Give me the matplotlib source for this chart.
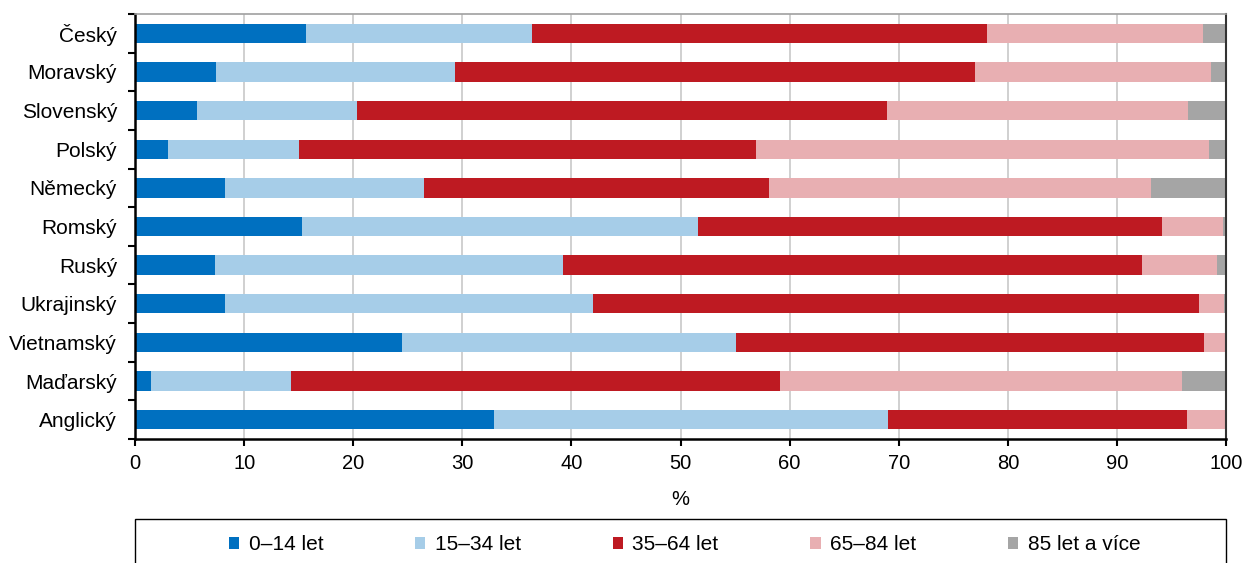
import matplotlib.pyplot as plt
from matplotlib.patches import Rectangle
import numpy as np

plt.rcParams['font.family'] = ['Liberation Sans', 'DejaVu Sans']

# data (share of population, %)
languages = ["Český", "Moravský", "Slovenský", "Polský", "Německý", "Romský",
             "Ruský", "Ukrajinský", "Vietnamský", "Maďarský", "Anglický"]
age_groups = ["0–14 let", "15–34 let", "35–64 let", "65–84 let", "85 let a více"]

age_0_14 = [15.7, 7.4, 5.7, 3.0, 8.2, 15.3, 7.3, 8.2, 24.5, 1.5, 32.9]
age_15_34 = [20.7, 21.9, 14.6, 12.0, 18.3, 36.3, 31.9, 33.8, 30.6, 12.8, 36.1]
age_35_64 = [41.7, 47.7, 48.6, 41.9, 31.6, 42.5, 53.1, 55.5, 42.9, 44.8, 27.4]
age_65_84 = [19.8, 21.6, 27.6, 41.5, 35.0, 5.6, 6.9, 2.3, 2.0, 36.9, 3.6]
age_85 = [2.1, 1.4, 3.5, 1.6, 6.9, 0.3, 0.8, 0.2, 0.0, 4.0, 0.0]

colors = ["#0070C0", "#A6CDE8", "#BE1A22", "#E8AFB2", "#A5A5A5"]

series = [age_0_14, age_15_34, age_35_64, age_65_84, age_85]

fig = plt.figure(figsize=(12.47, 5.63), dpi=100)
ax = fig.add_axes([0.1083, 0.2203, 0.8749, 0.7548])

y = np.arange(len(languages))
left = np.zeros(len(languages))
for vals, col, lab in zip(series, colors, age_groups):
    ax.barh(y, vals, left=left, height=0.5, color=col, label=lab, zorder=2)
    left += np.array(vals)

ax.set_xlim(0, 100)
ax.set_ylim(len(languages) - 0.5, -0.5)
ax.set_xticks(np.arange(0, 101, 10))
ax.set_yticks(y)
ax.set_yticklabels(languages)
ax.set_yticks(np.arange(-0.5, len(languages), 1), minor=True)
ax.tick_params(axis='y', which='major', length=0, pad=13, labelsize=15)
ax.tick_params(axis='y', which='minor', length=5, width=1.5, direction='out')
ax.tick_params(axis='x', length=5, width=1.5, direction='out', labelsize=14.5, pad=6)
ax.grid(axis='x', color='#C8C8C8', linewidth=1.2, zorder=0)
ax.set_xlabel("%", fontsize=14.5, labelpad=12)

for s in ['left', 'bottom']:
    ax.spines[s].set_linewidth(1.8)
    ax.spines[s].set_color('black')
ax.spines['top'].set_color('#A0A0A0')
ax.spines['top'].set_linewidth(1.2)
ax.spines['right'].set_color('#333333')
ax.spines['right'].set_linewidth(1.5)

# legend box
fig.patches.append(Rectangle((0.1083, -0.05), 0.8749, 0.128, transform=fig.transFigure,
                             fill=False, edgecolor='black', linewidth=1.0, clip_on=False))
fig.legend(loc='center', bbox_to_anchor=(0.549, 1 - 545 / 563), ncol=5, frameon=False,
           fontsize=15, handlelength=0.5, handleheight=0.5, handletextpad=0.45,
           columnspacing=4.4)

fig.savefig("out.png", dpi=100)
